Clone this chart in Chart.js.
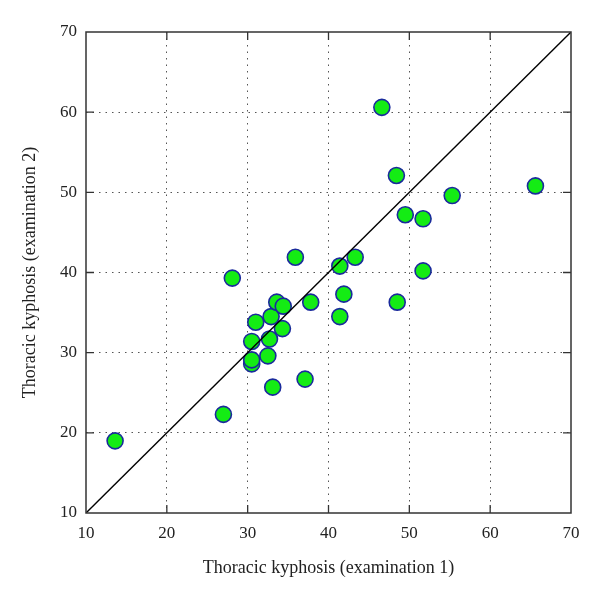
<!DOCTYPE html>
<html>
<head>
<meta charset="utf-8">
<script src="https://cdn.jsdelivr.net/npm/chart.js@4"></script>
<style>
  html, body { margin: 0; padding: 0; background: #fff; }
  #wrap { width: 600px; height: 591px; }
</style>
</head>
<body>
<div id="wrap"><canvas id="chart" width="600" height="591"></canvas></div>
<script>
// Thoracic kyphosis, examination 1 vs examination 2 (degrees)
const exam1 = [13.6, 27.0, 28.1, 30.5, 30.5, 30.5, 31.0, 32.5, 32.7, 32.9, 33.1, 33.6, 34.4, 34.3,
               35.9, 37.1, 37.8, 41.4, 41.4, 41.9, 43.3, 46.6, 48.4, 48.5, 49.5, 51.7, 51.7, 55.3, 65.6];
const exam2 = [19.0, 22.3, 39.3, 28.6, 29.1, 31.4, 33.8, 29.6, 31.7, 34.5, 25.7, 36.3, 35.8, 33.0,
               41.9, 26.7, 36.3, 40.8, 34.5, 37.3, 41.9, 60.6, 52.1, 36.3, 47.2, 46.7, 40.2, 49.6, 50.8];
const axisMin = 10;
const axisMax = 70;
const tickValues = [10, 20, 30, 40, 50, 60, 70];
const xTitle = 'Thoracic kyphosis (examination 1)';
const yTitle = 'Thoracic kyphosis (examination 2)';

const points = exam1.map((x, i) => ({ x: x, y: exam2[i] }));
const identity = [{ x: axisMin, y: axisMin }, { x: axisMax, y: axisMax }];

const serif = '"Liberation Serif", "DejaVu Serif", serif';

// frame box + inward tick marks on all four sides
const framePlugin = {
    id: 'frame',
    afterDatasetsDraw(chart) {
        const { ctx, chartArea: a, scales } = chart;
        ctx.save();
        ctx.strokeStyle = '#333';
        ctx.lineWidth = 1.3;
        ctx.setLineDash([]);
        ctx.beginPath();
        tickValues.forEach(v => {
            if (v === axisMin || v === axisMax) return;
            const px = scales.x.getPixelForValue(v);
            const py = scales.y.getPixelForValue(v);
            ctx.moveTo(px, a.bottom); ctx.lineTo(px, a.bottom - 8);
            ctx.moveTo(px, a.top); ctx.lineTo(px, a.top + 8);
            ctx.moveTo(a.left, py); ctx.lineTo(a.left + 8, py);
            ctx.moveTo(a.right, py); ctx.lineTo(a.right - 8, py);
        });
        ctx.stroke();
        ctx.lineWidth = 1.5;
        ctx.strokeRect(a.left, a.top, a.right - a.left, a.bottom - a.top);
        ctx.restore();
    }
};

const gridColor = c => (c.tick && (c.tick.value === axisMin || c.tick.value === axisMax)) ? 'rgba(0,0,0,0)' : '#555';

new Chart(document.getElementById('chart'), {
    type: 'scatter',
    data: {
        datasets: [
            {
                type: 'line',
                data: identity,
                borderColor: '#000',
                borderWidth: 1.4,
                pointRadius: 0,
                fill: false
            },
            {
                data: points,
                pointRadius: 8,
                pointHoverRadius: 8,
                pointBackgroundColor: '#14ec14',
                pointBorderColor: '#1a2a9c',
                pointBorderWidth: 1.6
            }
        ]
    },
    options: {
        responsive: false,
        animation: false,
        layout: { padding: { left: 15, right: 29, top: 32, bottom: 8 } },
        plugins: { legend: { display: false }, tooltip: { enabled: false } },
        scales: {
            x: {
                type: 'linear',
                min: axisMin,
                max: axisMax,
                afterBuildTicks: s => { s.ticks = tickValues.map(v => ({ value: v })); },
                grid: { color: gridColor, drawTicks: false, lineWidth: 1 },
                border: { display: false, dash: [1.5, 5] },
                ticks: { color: '#222', font: { family: serif, size: 17 }, padding: 10, maxRotation: 0 },
                title: { display: true, text: xTitle, color: '#222', font: { family: serif, size: 18 }, padding: { top: 10 } },
                afterFit: s => { s.height = 70; }
            },
            y: {
                type: 'linear',
                min: axisMin,
                max: axisMax,
                afterBuildTicks: s => { s.ticks = tickValues.map(v => ({ value: v })); },
                grid: { color: gridColor, drawTicks: false, lineWidth: 1 },
                border: { display: false, dash: [1.5, 5] },
                ticks: { color: '#222', font: { family: serif, size: 17 }, padding: 9 },
                title: { display: true, text: yTitle, color: '#222', font: { family: serif, size: 18 }, padding: { bottom: 10 } },
                afterFit: s => { s.width = 71; }
            }
        }
    },
    plugins: [framePlugin]
});
</script>
</body>
</html>
